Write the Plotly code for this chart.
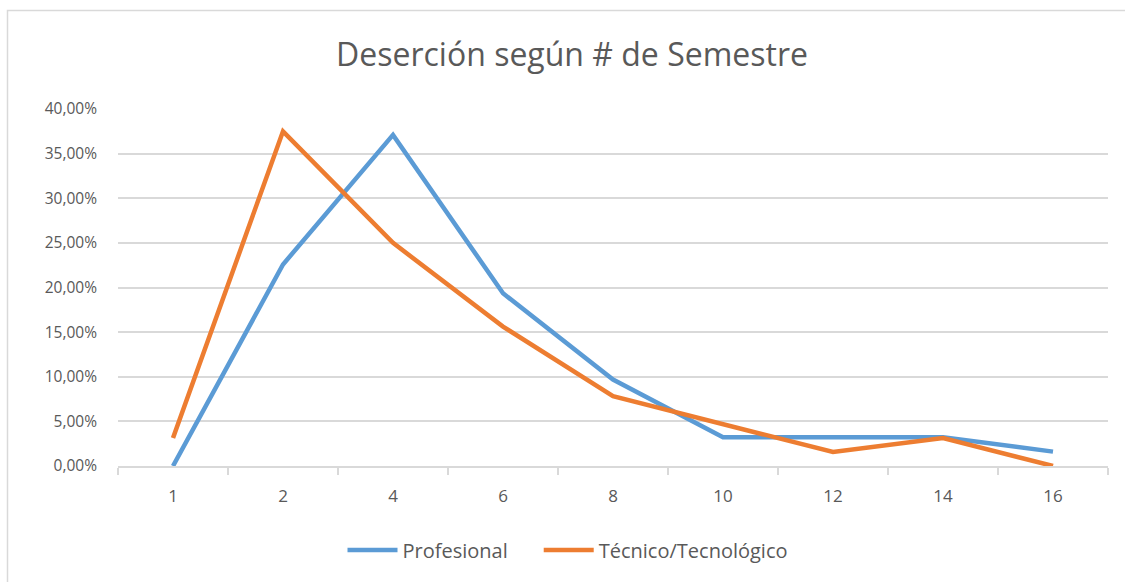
import plotly.graph_objects as go

semestres = ["1", "2", "4", "6", "8", "10", "12", "14", "16"]
profesional = [0.0, 0.2258, 0.3710, 0.1935, 0.0968, 0.0323, 0.0323, 0.0323, 0.0161]
tecnico = [0.03125, 0.375, 0.25, 0.15625, 0.078125, 0.046875, 0.015625, 0.03125, 0.0]
y_ticks = [0, 0.05, 0.10, 0.15, 0.20, 0.25, 0.30, 0.35, 0.40]
series_names = ["Profesional", "Técnico/Tecnológico"]

W, H = 1125, 582
L, R, T, B = 118, 17, 109, 116
pw, ph = W - L - R, H - T - B

def px(x):
    return (x - L) / pw

def py(y):
    return (H - B - y) / ph

fig = go.Figure()
fig.add_trace(go.Scatter(x=semestres, y=profesional, mode="lines",
                         name=series_names[0] + "\u00a0" * 5,
                         line=dict(color="#5B9BD5", width=4.5)))
fig.add_trace(go.Scatter(x=semestres, y=tecnico, mode="lines", name=series_names[1],
                         line=dict(color="#ED7D31", width=4.5)))

font = "Open Sans, Liberation Sans, sans-serif"
fig.update_layout(
    width=W, height=H,
    margin=dict(l=L, r=R, t=T, b=B),
    paper_bgcolor="white", plot_bgcolor="white",
    separators=",.",
    font=dict(family=font, color="#595959", size=16),
    title=dict(text="Deserción según # de Semestre", x=572 / W, xanchor="center",
               y=1 - 55 / H, yanchor="middle",
               font=dict(size=32, color="#595959", family=font)),
    xaxis=dict(type="category", range=[-0.5, len(semestres) - 0.5],
               showgrid=False, showline=True, linecolor="#d9d9d9", linewidth=1.5,
               ticks="outside", tickson="boundaries", ticklen=7, tickcolor="#d9d9d9",
               tickwidth=1.5, ticklabelstandoff=14,
               tickfont=dict(size=17, color="#595959"), zeroline=False),
    yaxis=dict(range=[0, 0.40], tickvals=y_ticks, tickformat=".2%", showgrid=True,
               gridcolor="#d9d9d9", gridwidth=1.5, zeroline=False, showline=False,
               ticks="", ticklabelstandoff=20,
               tickfont=dict(size=15.5, color="#595959")),
    showlegend=True,
    legend=dict(orientation="h", x=px(568), xanchor="center",
                y=py(550), yanchor="middle",
                font=dict(size=20, color="#595959"), itemwidth=50,
                tracegroupgap=0),
    shapes=[dict(type="rect", xref="paper", yref="paper",
                 x0=px(7.5), x1=px(W + 20), y0=py(H + 20), y1=py(10.5),
                 line=dict(color="#d9d9d9", width=1.5), fillcolor="rgba(0,0,0,0)", layer="below")],
)

fig.write_html("out.html", config={"displayModeBar": False},
               post_script="document.body.style.margin='0';document.body.style.overflow='hidden';")
